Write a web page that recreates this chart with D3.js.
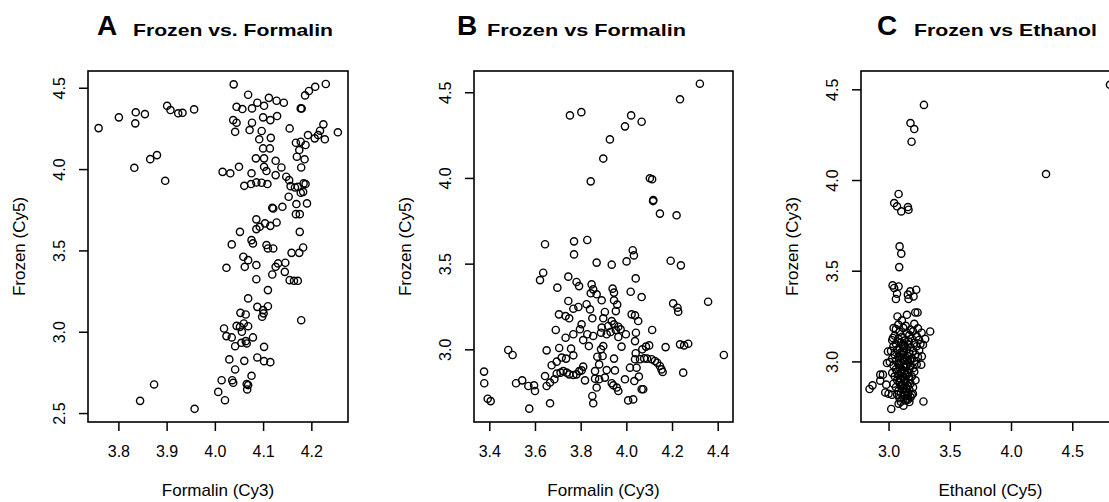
<!DOCTYPE html>
<html>
<head>
<meta charset="utf-8">
<script src="https://cdn.jsdelivr.net/npm/d3@7"></script>
<style>
  body { margin: 0; background: #fff; }
  svg { display: block; font-family: "Liberation Sans", Arial, sans-serif; }
</style>
</head>
<body>
<div id="chart"></div>
<script>
// values (x, y)
const frozenFormalinA = [
  [3.759,4.252],[3.801,4.318],[3.836,4.349],[3.835,4.281],[3.855,4.338],[3.901,4.389],[3.908,4.363],[3.924,4.343],[3.933,4.346],[3.957,4.367],
  [3.833,4.008],[3.866,4.061],[3.880,4.086],[3.897,3.928],[3.845,2.575],[3.874,2.676],[3.958,2.526],
  [4.039,4.521],[4.069,4.457],[4.045,4.383],[4.057,4.369],[4.077,4.373],[4.088,4.408],[4.102,4.389],[4.112,4.438],[4.128,4.420],
  [4.038,4.301],[4.045,4.285],[4.077,4.285],[4.100,4.318],[4.115,4.301],[4.129,4.326],[4.042,4.229],[4.072,4.240],[4.097,4.234],
  [4.092,4.183],[4.116,4.192],[4.100,4.127],[4.114,4.127],[4.085,4.066],[4.102,4.066],[4.126,4.051],[4.102,4.014],[4.107,3.988],
  [4.126,3.963],[4.016,3.983],[4.032,3.974],[4.050,4.014],[4.076,3.974],[4.061,3.897],[4.075,3.908],[4.086,3.918],[4.097,3.916],
  [4.109,3.908],[4.119,3.762],[4.121,3.758],[4.086,3.691],[4.093,3.645],[4.086,3.631],[4.104,3.666],[4.115,3.651],[4.128,3.672],
  [4.052,3.614],[4.076,3.563],[4.079,3.543],[4.107,3.533],[4.110,3.512],[4.121,3.512],[4.035,3.537],[4.059,3.461],[4.069,3.440],
  [4.086,3.410],[4.024,3.393],[4.062,3.399],[4.126,3.399],[4.131,3.420],[4.086,3.323],[4.119,3.352],[4.110,3.256],
  [4.069,3.205],[4.088,3.153],[4.100,3.133],[4.110,3.157],[4.101,3.113],[4.098,3.092],[4.053,3.116],[4.064,3.106],[4.060,3.051],
  [4.069,3.034],[4.019,3.020],[4.045,3.036],[4.052,3.030],[4.024,2.973],[4.035,2.965],[4.056,3.000],[4.079,2.965],[4.042,2.911],
  [4.055,2.932],[4.064,2.942],[4.066,2.928],[4.102,2.907],[4.030,2.830],[4.061,2.821],[4.088,2.842],[4.102,2.819],[4.115,2.813],
  [4.042,2.768],[4.014,2.702],[4.036,2.702],[4.038,2.686],[4.076,2.729],[4.066,2.678],[4.069,2.672],[4.067,2.645],[4.007,2.630],[4.021,2.579],
  [4.230,4.523],[4.208,4.506],[4.195,4.480],[4.187,4.453],[4.178,4.373],[4.180,4.372],[4.143,4.408],[4.155,4.250],[4.225,4.275],
  [4.255,4.226],[4.218,4.236],[4.214,4.209],[4.207,4.189],[4.228,4.183],[4.193,4.209],[4.188,4.148],[4.178,4.168],[4.168,4.162],
  [4.175,4.117],[4.170,4.076],[4.186,4.060],[4.179,4.010],[4.138,4.010],[4.148,3.953],[4.154,3.932],[4.157,3.895],[4.166,3.887],
  [4.172,3.891],[4.184,3.912],[4.188,3.908],[4.178,3.854],[4.183,3.860],[4.153,3.830],[4.169,3.785],[4.168,3.723],[4.176,3.723],
  [4.191,3.789],[4.140,3.768],[4.176,3.614],[4.183,3.518],[4.175,3.485],[4.159,3.485],[4.146,3.424],[4.145,3.368],[4.155,3.317],
  [4.164,3.313],[4.172,3.313],[4.179,3.071]
];

const frozenFormalinB = [
  [4.322,4.550],[4.235,4.459],[3.753,4.365],[3.803,4.384],[4.021,4.365],[4.067,4.328],[3.994,4.301],[3.928,4.225],[3.899,4.113],
  [3.844,3.980],[4.103,3.998],[4.113,3.992],[4.118,3.871],[4.117,3.865],[4.147,3.792],[4.220,3.782],[3.644,3.613],[3.771,3.630],
  [3.829,3.638],[3.771,3.554],
  [4.028,3.578],[4.033,3.548],[3.870,3.506],[3.936,3.494],[4.001,3.513],[4.194,3.517],[4.239,3.490],[3.636,3.447],[3.622,3.404],
  [3.746,3.424],[3.782,3.393],[3.793,3.369],[3.698,3.360],[3.848,3.379],[3.855,3.350],[3.844,3.327],[3.870,3.321],[3.940,3.354],
  [3.946,3.331],[4.041,3.414],[4.019,3.336],[4.067,3.305],[3.746,3.282],[3.892,3.286],[3.946,3.286],[3.960,3.261],[3.826,3.263],
  [3.841,3.233],[3.790,3.247],[3.768,3.237],[4.205,3.268],[4.224,3.243],[4.227,3.220],[4.358,3.278],[3.705,3.204],[3.734,3.194],
  [3.750,3.181],[3.851,3.181],[3.906,3.218],[3.899,3.181],[3.954,3.223],[4.023,3.204],[4.038,3.198],[4.052,3.165],[3.936,3.165],
  [3.921,3.136],[3.946,3.146],[3.965,3.132],[3.975,3.117],[3.954,3.113],[3.998,3.088],[3.965,3.072],[3.931,3.101],[3.914,3.088],
  [3.892,3.127],[3.889,3.097],[3.855,3.078],[3.829,3.088],[3.804,3.146],[3.797,3.117],[3.811,3.054],[3.836,3.019],[3.768,3.088],
  [3.734,3.068],[3.691,3.113],[4.042,3.097],[4.038,3.048],[4.113,3.113],[4.172,3.013],[4.235,3.029],[4.253,3.023],[4.271,3.033],
  [4.427,2.967],[4.249,2.864],[3.979,3.016],[3.899,3.019],[3.889,3.000],[3.873,2.957],[3.896,2.961],[3.946,2.946],[3.881,2.912],
  [3.863,2.873],[3.914,2.879],[3.950,2.877],[4.016,2.893],[4.041,2.977],[4.070,3.000],[4.086,3.016],[4.100,3.023],[4.060,2.942],
  [4.078,2.947],[4.091,2.946],[4.111,2.942],[4.125,2.932],[4.135,2.922],[4.147,2.903],[4.154,2.883],[4.159,2.868],[4.038,2.942],
  [4.045,2.893],[4.035,2.815],[4.055,2.841],[4.067,2.767],[4.074,2.767],[3.994,2.825],[3.958,2.777],[3.965,2.757],[3.936,2.802],
  [3.943,2.790],[4.008,2.702],[4.030,2.708],[3.906,2.835],[3.881,2.825],[3.863,2.829],[3.870,2.777],[3.851,2.728],[3.855,2.685],
  [3.819,2.819],[3.811,2.899],[3.794,2.873],[3.768,2.965],[3.758,3.004],[3.706,3.008],[3.651,2.994],[3.717,2.952],[3.736,2.946],
  [3.695,2.928],[3.673,2.907],[3.724,2.873],[3.739,2.864],[3.750,2.854],[3.768,2.850],[3.782,2.854],[3.804,2.877],[3.712,2.864],
  [3.695,2.858],[3.644,2.844],[3.651,2.786],[3.666,2.806],[3.666,2.685],[3.685,2.825],
  [3.483,2.996],[3.502,2.967],[3.377,2.870],[3.378,2.802],[3.393,2.712],[3.406,2.698],[3.517,2.802],[3.544,2.819],[3.571,2.786],
  [3.596,2.790],[3.600,2.757],[3.575,2.654]
];

const frozenEthanolC = [
  [4.808,4.525],[3.289,4.414],[3.179,4.314],[3.210,4.281],[3.188,4.211],[4.286,4.033],[3.082,3.923],[3.046,3.873],[3.069,3.855],
  [3.104,3.827],[3.158,3.851],[3.163,3.836],[3.090,3.634],[3.104,3.594],[3.087,3.520],[3.033,3.419],[3.046,3.405],[3.082,3.413],
  [3.069,3.373],[3.060,3.344],[3.158,3.368],[3.177,3.386],[3.226,3.395],[3.163,3.344],[3.204,3.358],[3.073,3.248],[3.109,3.226],
  [3.150,3.257],[3.218,3.270],[3.237,3.270],[3.340,3.165],[3.041,3.184],[3.285,2.779],[3.022,2.738],[2.845,2.848],[2.869,2.868],
  [2.932,2.927],[2.954,2.927],
  [2.932,2.894],[2.981,2.872],[2.973,2.829],[3.000,2.822],[3.028,2.816],[3.082,2.767],[3.122,2.756],[3.158,2.789],[3.199,2.822],
  [3.299,3.124],[3.281,3.092],[3.272,3.028],[3.267,2.982],[2.987,2.991],[2.995,3.055],[3.036,3.129],
  [3.08,3.203],[3.14,3.196],[3.21,3.207],[3.06,3.178],[3.12,3.185],[3.18,3.174],[3.24,3.182],
  [3.09,3.163],[3.15,3.156],[3.20,3.166],[3.27,3.158],[3.05,3.142],[3.11,3.136],[3.17,3.145],[3.23,3.138],
  [3.03,3.117],[3.08,3.124],[3.13,3.115],[3.19,3.126],[3.25,3.118],[3.06,3.097],[3.10,3.105],[3.16,3.094],[3.21,3.102],[3.26,3.096],
  [3.04,3.083],[3.09,3.076],[3.13,3.087],[3.18,3.078],[3.23,3.084],[3.02,3.058],[3.07,3.064],[3.11,3.055],[3.15,3.066],[3.20,3.057],[3.25,3.062],
  [3.05,3.037],[3.09,3.045],[3.12,3.036],[3.17,3.043],[3.22,3.038],[3.03,3.016],[3.08,3.024],[3.11,3.013],[3.14,3.022],[3.19,3.017],[3.24,3.025],
  [3.01,2.997],[3.06,3.004],[3.10,2.995],[3.13,3.006],[3.16,2.998],[3.21,3.003],[3.04,2.978],[3.08,2.984],[3.12,2.976],[3.15,2.985],[3.18,2.977],[3.23,2.983],
  [3.06,2.957],[3.09,2.964],[3.11,2.955],[3.14,2.966],[3.17,2.958],[3.20,2.963],[3.03,2.937],[3.07,2.944],[3.10,2.935],[3.13,2.946],[3.16,2.938],[3.21,2.943],
  [3.05,2.918],[3.08,2.924],[3.12,2.915],[3.15,2.926],[3.19,2.917],[3.07,2.897],[3.10,2.905],[3.13,2.894],[3.17,2.903],[3.22,2.896],
  [3.04,2.877],[3.09,2.884],[3.11,2.875],[3.14,2.886],[3.18,2.878],[3.06,2.858],[3.10,2.865],[3.12,2.854],[3.16,2.864],[3.20,2.857],
  [3.08,2.838],[3.11,2.845],[3.14,2.836],[3.17,2.844],[3.07,2.817],[3.10,2.825],[3.13,2.814],[3.16,2.823],[3.19,2.816],
  [3.09,2.797],[3.12,2.804],[3.15,2.795],[3.18,2.803],[3.10,2.778],[3.14,2.785],[3.17,2.776],
  [3.095,3.025],[3.125,3.050],[3.155,3.030],[3.105,2.945],[3.135,2.925],[3.165,2.915],[3.115,2.865],[3.145,2.850],
  [3.085,2.990],[3.145,2.975],[3.175,3.010],[3.115,3.090],[3.165,3.110],[3.095,2.905],[3.125,2.830],[3.155,2.810]
];

const xTicksA = [3.8, 3.9, 4.0, 4.1, 4.2];
const yTicksA = [2.5, 3.0, 3.5, 4.0, 4.5];
const xTicksB = [3.4, 3.6, 3.8, 4.0, 4.2, 4.4];
const yTicksB = [3.0, 3.5, 4.0, 4.5];
const xTicksC = [3.0, 3.5, 4.0, 4.5];
const yTicksC = [3.0, 3.5, 4.0, 4.5];

const width = 1109, height = 502;
const plotTop = 71, plotBottom = 422;

const panels = [
  { letter: "A", title: "Frozen vs. Formalin", xLabel: "Formalin (Cy3)", yLabel: "Frozen (Cy5)",
    data: frozenFormalinA, xTicks: xTicksA, yTicks: yTicksA,
    xDomain: [3.737, 4.276], yDomain: [2.445, 4.603], left: 88, right: 348,
    letterX: 97, titleX: 133, titleLen: 200 },
  { letter: "B", title: "Frozen vs Formalin", xLabel: "Formalin (Cy3)", yLabel: "Frozen (Cy5)",
    data: frozenFormalinB, xTicks: xTicksB, yTicks: yTicksB,
    xDomain: [3.333, 4.467], yDomain: [2.576, 4.624], left: 474, right: 733,
    letterX: 457, titleX: 487, titleLen: 199 },
  { letter: "C", title: "Frozen vs Ethanol", xLabel: "Ethanol (Cy5)", yLabel: "Frozen (Cy3)",
    data: frozenEthanolC, xTicks: xTicksC, yTicks: yTicksC,
    xDomain: [2.775, 4.89], yDomain: [2.666, 4.601], left: 861, right: 1120,
    letterX: 877, titleX: 914, titleLen: 183 }
];

const svg = d3.select("#chart").append("svg")
  .attr("width", width)
  .attr("height", height);

const fmt = d3.format(".1f");

panels.forEach(function(p) {
  var x = d3.scaleLinear().domain(p.xDomain).range([p.left, p.right]);
  var y = d3.scaleLinear().domain(p.yDomain).range([plotBottom, plotTop]);
  var g = svg.append("g");

  // titles
  g.append("text")
    .attr("x", p.letterX)
    .attr("y", 35)
    .attr("font-size", 28)
    .attr("font-weight", "bold")
    .text(p.letter);
  g.append("text")
    .attr("x", p.titleX)
    .attr("y", 36)
    .attr("font-size", 17)
    .attr("font-weight", "bold")
    .attr("textLength", p.titleLen)
    .attr("lengthAdjust", "spacingAndGlyphs")
    .text(p.title);

  // points
  g.append("g")
    .selectAll("circle")
    .data(p.data)
    .enter()
    .append("circle")
    .attr("cx", function(d) { return x(d[0]); })
    .attr("cy", function(d) { return y(d[1]); })
    .attr("r", 3.6)
    .attr("fill", "none")
    .attr("stroke", "#000")
    .attr("stroke-width", 1.4);

  // box
  g.append("rect")
    .attr("x", p.left)
    .attr("y", plotTop)
    .attr("width", p.right - p.left)
    .attr("height", plotBottom - plotTop)
    .attr("fill", "none")
    .attr("stroke", "#000")
    .attr("stroke-width", 1.6);

  // x axis
  var xa = g.append("g")
    .attr("transform", "translate(0," + plotBottom + ")")
    .call(d3.axisBottom(x).tickValues(p.xTicks).tickFormat(fmt).tickSize(9).tickPadding(15));
  xa.select(".domain").remove();
  xa.selectAll("line").attr("stroke-width", 1.5);
  xa.selectAll("text").attr("font-size", 16).attr("fill", "#000")
    .attr("font-family", "Liberation Sans, Arial, sans-serif");

  // y axis, labels parallel to axis like R
  var ya = g.append("g")
    .attr("transform", "translate(" + p.left + ",0)")
    .call(d3.axisLeft(y).tickValues(p.yTicks).tickFormat(fmt).tickSize(9));
  ya.select(".domain").remove();
  ya.selectAll("line").attr("stroke-width", 1.5);
  ya.selectAll("text")
    .attr("font-size", 16).attr("fill", "#000")
    .attr("font-family", "Liberation Sans, Arial, sans-serif")
    .attr("transform", "rotate(-90)")
    .attr("x", 0).attr("y", -29).attr("dy", null)
    .attr("dominant-baseline", "central")
    .attr("text-anchor", "middle");

  // axis titles
  g.append("text")
    .attr("x", (p.left + p.right) / 2)
    .attr("y", 496)
    .attr("text-anchor", "middle")
    .attr("font-size", 17)
    .text(p.xLabel);
  g.append("text")
    .attr("transform", "translate(" + (p.left - 69) + "," + ((plotTop + plotBottom) / 2) + ") rotate(-90)")
    .attr("text-anchor", "middle")
    .attr("dominant-baseline", "central")
    .attr("font-size", 17)
    .text(p.yLabel);
});
</script>
</body>
</html>
